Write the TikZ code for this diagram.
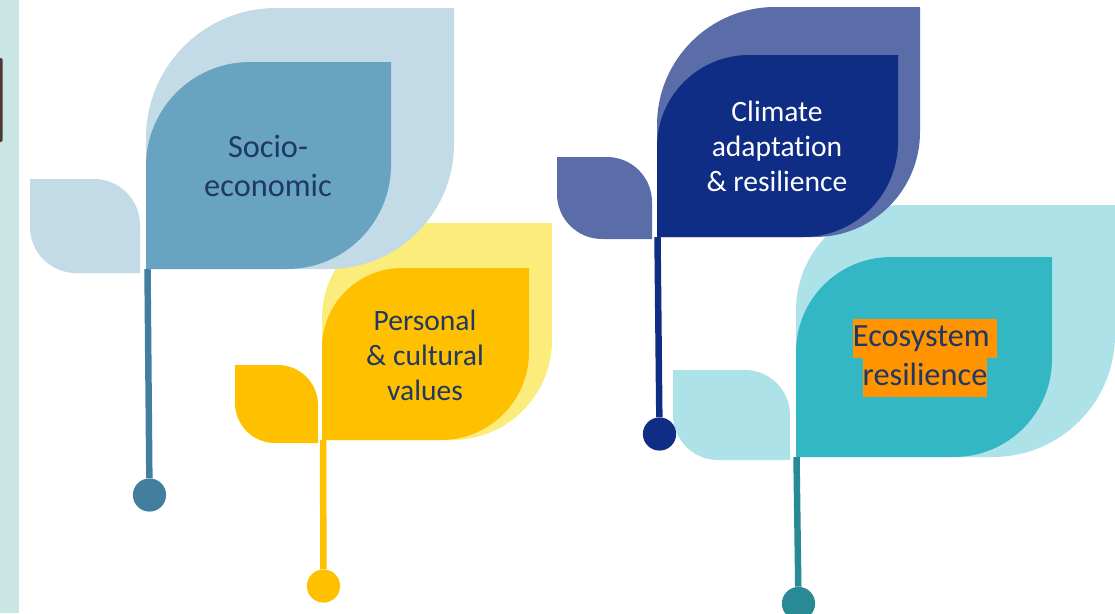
\documentclass[tikz,border=0pt]{standalone}
\usepackage{fontspec}
\setmainfont{Carlito}[Ligatures=NoCommon]
\usepackage{tikz}
\usetikzlibrary{calc}

\definecolor{stripteal}{HTML}{C9E6E5}
\definecolor{barkbrown}{HTML}{4B3A33}
\definecolor{socioback}{HTML}{C3DBE6}
\definecolor{sociofront}{HTML}{68A3C1}
\definecolor{sociostem}{HTML}{427E9D}
\definecolor{persback}{HTML}{FBEC7C}
\definecolor{persfront}{HTML}{FFC000}
\definecolor{climback}{HTML}{5A6DA8}
\definecolor{climfront}{HTML}{102D86}
\definecolor{ecoback}{HTML}{ADE3E8}
\definecolor{ecofront}{HTML}{34B7C5}
\definecolor{ecostem}{HTML}{278A94}
\definecolor{labelblue}{HTML}{1F3864}
\definecolor{markorange}{HTML}{FF9300}
\setlength{\fboxsep}{0pt}

\newcommand{\leafpath}[6]{(#1,#4) -- (#1,#2+#5) .. controls (#1,#2+0.448*#5) and (#1+0.448*#5,#2) .. (#1+#5,#2) -- (#3,#2) -- (#3,#4-#6) .. controls (#3,#4-0.448*#6) and (#3-0.448*#6,#4) .. (#3-#6,#4) -- cycle}
\newcommand{\budpath}[5]{(#1,#2) -- (#3-#5,#2) .. controls (#3-0.448*#5,#2) and (#3,#2+0.448*#5) .. (#3,#2+#5) -- (#3,#4) -- (#1+#5,#4) .. controls (#1+0.448*#5,#4) and (#1,#4-0.448*#5) .. (#1,#4-#5) -- cycle}

\begin{document}
\begin{tikzpicture}[x=0.025cm, y=-0.025cm,
        stem_style/.style={line width=4.6pt},
        bulb_style/.style={circle, inner sep=0pt, minimum size=0.83cm},
        big_label/.style={align=center, text=labelblue, inner sep=0pt, font=\fontsize{23}{27.7}\selectfont},
        small_label/.style={align=center, inner sep=0pt, font=\fontsize{21}{24.9}\selectfont}]

        \useasboundingbox (0,0) rectangle (1115,613);
        \fill[stripteal] (0,0) rectangle (19,613);
        \fill[barkbrown, rounded corners=1pt] (-2,58) rectangle (2.5,142);

        \fill[persback] \leafpath{322}{223}{552}{440}{95}{100};
        \fill[persfront] \budpath{235}{365}{318}{443}{40};
        \fill[persfront] \leafpath{322}{268}{529}{440}{80}{88};
        \coordinate (pers_top) at (323,440);
        \node[bulb_style, fill=persfront] (pers_bulb) at (323.5,586) {};
        \draw[stem_style, persfront] (pers_top) -- (pers_bulb);
        \node[small_label, text=labelblue] (pers_label) at (425,355) {Personal\\\& cultural\\values};

        \fill[socioback] \leafpath{146}{8}{454}{269}{130}{125};
        \fill[socioback] \budpath{30}{179}{140}{273}{46};
        \fill[sociofront] \leafpath{146}{62}{391}{269}{104}{104};
        \coordinate (socio_top) at (147.5,269);
        \node[bulb_style, fill=sociostem] (socio_bulb) at (149.5,495) {};
        \draw[stem_style, sociostem] (socio_top) -- (socio_bulb);
        \node[big_label] (socio_label) at (268,166) {Socio-\\economic};

        \fill[ecoback] \leafpath{796}{205}{1115}{457}{105}{122};
        \fill[ecoback] \budpath{673}{370}{790}{460}{45};
        \fill[ecofront] \leafpath{796}{257}{1052}{457}{95}{98};
        \coordinate (eco_top) at (796.5,457);
        \node[bulb_style, fill=ecostem] (eco_bulb) at (798.5,603.5) {};
        \draw[stem_style, ecostem] (eco_top) -- (eco_bulb);
        \node[big_label] (eco_label) at (925,358) {\colorbox{markorange}{\strut Ecosystem\ }\\\colorbox{markorange}{\strut resilience}};

        \fill[climback] \leafpath{657}{7}{920}{237}{118}{105};
        \fill[climback] \budpath{557}{157}{652}{239}{45};
        \fill[climfront] \leafpath{657}{55}{898}{237}{92}{95};
        \coordinate (clim_top) at (657.5,237);
        \node[bulb_style, fill=climfront] (clim_bulb) at (659.5,434) {};
        \draw[stem_style, climfront] (clim_top) -- (clim_bulb);
        \node[small_label, text=white] (clim_label) at (777,146) {Climate\\adaptation\\\& resilience};
\end{tikzpicture}
\end{document}
